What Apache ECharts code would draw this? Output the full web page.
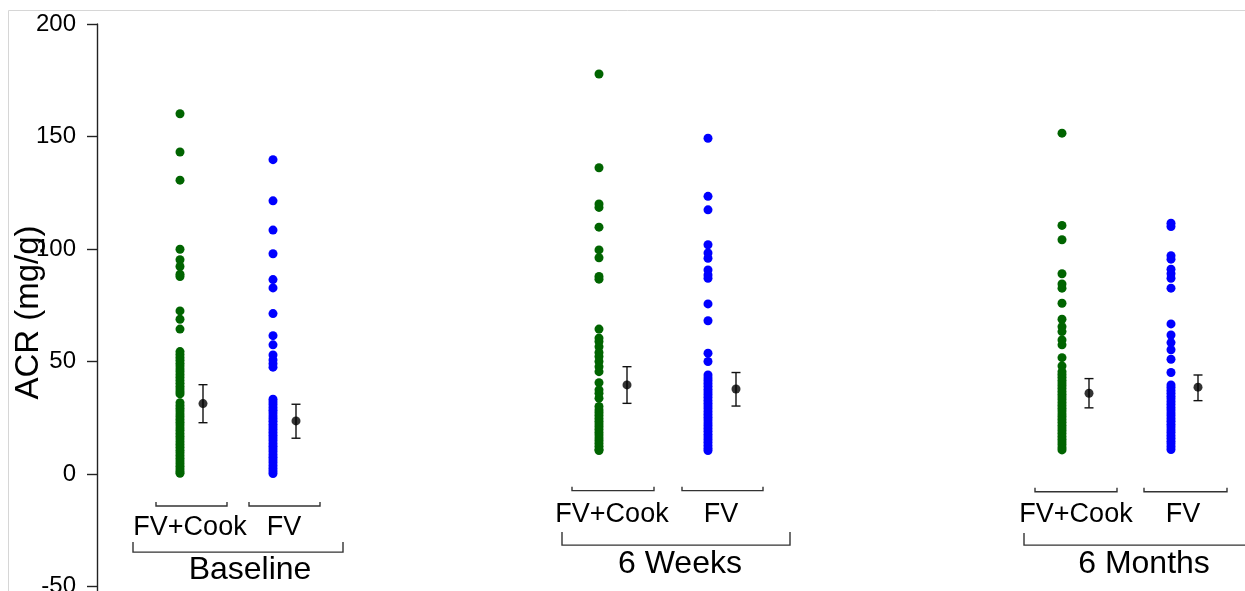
<!DOCTYPE html>
<html>
<head>
<meta charset="utf-8">
<script src="https://cdn.jsdelivr.net/npm/echarts@6/dist/echarts.min.js"></script>
<style>
html,body{margin:0;padding:0;background:#fff;}
#chart{width:1245px;height:591px;}
</style>
</head>
<body>
<div id="chart"></div>
<script>
// ---------- DATA ----------
const timepoints = ['Baseline', '6 Weeks', '6 Months'];
const arms = ['FV+Cook', 'FV'];
const yTickLabels = [-50, 0, 50, 100, 150, 200];

const baselineFVCook = [160.1, 143.1, 130.6, 99.9, 95.2, 92.2, 88.8, 87.8, 72.5, 68.8, 64.4,
  54.4, 53.1, 51.8, 50.6, 49.2, 48.0, 46.7, 45.5, 44.1, 42.9, 41.6, 40.3, 39.0, 37.8, 36.6, 35.6,
  31.7, 30.4, 29.2, 28.0, 26.7, 25.5, 24.2, 23.0, 21.8, 20.5, 19.3, 18.0, 16.8, 15.6, 14.3, 13.1,
  11.9, 10.6, 9.4, 8.2, 7.0, 5.8, 4.6, 3.4, 2.2, 1.1, 0.3];
const baselineFV = [139.7, 121.4, 108.4, 97.9, 86.4, 82.7, 71.3, 61.5, 57.4, 52.9, 50.7, 49.0, 47.5,
  33.2, 32.0, 30.8, 29.5, 28.3, 27.1, 25.8, 24.6, 23.4, 22.1, 20.9, 19.7, 18.5, 17.2, 16.0, 14.8,
  13.5, 12.3, 11.1, 9.9, 8.6, 7.4, 6.2, 5.0, 3.7, 2.5, 1.3, 0.2];
const weeks6FVCook = [177.8, 136.1, 120.0, 118.5, 109.7, 99.6, 96.1, 87.8, 86.6, 64.4, 60.4, 58.9,
  56.6, 54.0, 52.2, 50.0, 47.7, 45.5, 40.6, 37.4, 35.9, 33.7, 30.0, 28.5, 27.2, 26.0, 24.7, 23.5,
  22.2, 21.0, 19.8, 18.5, 17.3, 16.0, 14.8, 13.6, 12.3, 11.0, 10.4];
const weeks6FV = [149.2, 123.4, 117.4, 101.9, 98.2, 95.9, 90.7, 88.5, 87.0, 75.6, 68.1, 53.7, 50.0,
  44.0, 42.7, 41.5, 40.2, 39.0, 37.7, 36.5, 35.2, 34.0, 32.7, 31.5, 30.2, 29.0, 27.7, 26.5, 25.2,
  24.0, 22.7, 21.5, 20.2, 19.0, 17.7, 16.5, 15.2, 14.0, 12.7, 11.5, 10.4];
const months6FVCook = [151.5, 110.5, 104.1, 89.0, 84.5, 82.6, 75.9, 68.8, 65.5, 63.3, 59.6, 57.4,
  51.7, 48.0, 45.5, 44.2, 43.0, 41.7, 40.5, 39.2, 38.0, 36.7, 35.5, 34.2, 33.0, 31.7, 30.5, 29.2,
  28.0, 26.7, 25.5, 24.2, 23.0, 21.7, 20.5, 19.2, 18.0, 16.7, 15.5, 14.2, 13.0, 11.7, 10.7];
const months6FV = [111.5, 110.0, 97.0, 95.5, 91.0, 89.0, 87.0, 82.6, 66.7, 61.8, 58.4, 55.2, 51.0,
  45.1, 39.6, 38.4, 37.1, 35.9, 34.6, 33.4, 32.1, 30.9, 29.6, 28.4, 27.1, 25.9, 24.6, 23.4, 22.1,
  20.9, 19.6, 18.4, 17.1, 15.9, 14.6, 13.4, 12.1, 10.9];

// group means and error-bar limits, order: Baseline FV+Cook, Baseline FV, 6W FV+Cook, 6W FV, 6M FV+Cook, 6M FV
const meanValues = [31.3, 23.6, 39.6, 37.8, 35.9, 38.6];
const errLow = [22.8, 15.9, 31.4, 30.2, 29.4, 32.6];
const errHigh = [39.7, 31.0, 47.7, 45.1, 42.4, 44.0];

// ---------- LAYOUT (not data) ----------
const columns = [baselineFVCook, baselineFV, weeks6FVCook, weeks6FV, months6FVCook, months6FV];
const colX = [83, 176, 502, 611, 965, 1074];
const meanOffset = [23, 23, 28, 28, 27, 27];
const colColor = ['#006400', '#0000ff', '#006400', '#0000ff', '#006400', '#0000ff'];

const groupLayout = [
  { small: [[59, 130], [152, 223]], smallY: -14.2, armLabelX: [93, 187], armLabelY: -23.6,
    big: [36, 246], bigY: -34.7, bigTick: 10, groupLabelX: 153, groupLabelY: -42.7 },
  { small: [[475, 557], [585, 666]], smallY: -7.4, armLabelX: [515, 624], armLabelY: -18.2,
    big: [465, 693], bigY: -31.6, bigTick: 13, groupLabelX: 583, groupLabelY: -40.0 },
  { small: [[938, 1020], [1047, 1130]], smallY: -7.9, armLabelX: [979, 1086], armLabelY: -18.2,
    big: [927, 1155], bigY: -31.6, bigTick: 12, groupLabelX: 1047, groupLabelY: -40.0 }
];

const FONT = '"Liberation Sans", Arial, sans-serif';

const series = [];
columns.forEach((vals, i) => {
  series.push({
    type: 'scatter',
    symbol: 'circle',
    symbolSize: 9,
    itemStyle: { color: colColor[i], opacity: 1 },
    data: vals.map(v => [colX[i], v]),
    z: 3,
    silent: true
  });
});

// error bars
series.push({
  type: 'custom',
  silent: true,
  z: 4,
  data: meanValues.map((m, i) => [colX[i] + meanOffset[i], errLow[i], errHigh[i]]),
  renderItem: function (params, api) {
    const x = api.value(0);
    const top = api.coord([x, api.value(2)]);
    const bot = api.coord([x, api.value(1)]);
    const cap = 4.5;
    const st = { stroke: '#111', lineWidth: 1.4 };
    return {
      type: 'group',
      children: [
        { type: 'line', shape: { x1: top[0], y1: top[1], x2: bot[0], y2: bot[1] }, style: st },
        { type: 'line', shape: { x1: top[0] - cap, y1: top[1], x2: top[0] + cap, y2: top[1] }, style: st },
        { type: 'line', shape: { x1: bot[0] - cap, y1: bot[1], x2: bot[0] + cap, y2: bot[1] }, style: st }
      ]
    };
  }
});

// means
series.push({
  type: 'scatter',
  symbol: 'circle',
  symbolSize: 9,
  itemStyle: { color: '#000' },
  z: 5,
  silent: true,
  data: meanValues.map((m, i) => [colX[i] + meanOffset[i], m])
});

// brackets + category labels
const bracketItems = [];
groupLayout.forEach((g, gi) => {
  g.small.forEach((s, ai) => {
    bracketItems.push([s[0], s[1], g.smallY, 4, g.armLabelX[ai], g.armLabelY, 0, gi, ai]);
  });
  bracketItems.push([g.big[0], g.big[1], g.bigY, g.bigTick, g.groupLabelX, g.groupLabelY, 1, gi, 0]);
});
series.push({
  type: 'custom',
  silent: true,
  clip: false,
  z: 2,
  data: bracketItems,
  renderItem: function (params, api) {
    const p1 = api.coord([api.value(0), api.value(2)]);
    const p2 = api.coord([api.value(1), api.value(2)]);
    const t = api.value(3);
    const lp = api.coord([api.value(4), api.value(5)]);
    const big = api.value(6) === 1;
    const text = big ? timepoints[api.value(7)] : arms[api.value(8)];
    return {
      type: 'group',
      children: [
        { type: 'polyline',
          shape: { points: [[p1[0], p1[1] - t], [p1[0], p1[1]], [p2[0], p2[1]], [p2[0], p2[1] - t]] },
          style: { stroke: '#333', lineWidth: 1.4, fill: null } },
        { type: 'text',
          x: lp[0], y: lp[1],
          style: { text: text, fill: '#000', font: (big ? '32px ' : '27px ') + FONT,
                   align: 'center', verticalAlign: 'middle' } }
      ]
    };
  }
});

const chart = echarts.init(document.getElementById('chart'), null, { renderer: 'canvas' });
chart.setOption({
  animation: false,
  backgroundColor: '#fff',
  textStyle: { fontFamily: FONT },
  graphic: [{
    type: 'rect', z: -10, silent: true,
    shape: { x: 8.5, y: 10.5, width: 1400, height: 800 },
    style: { fill: null, stroke: '#d6d6d6', lineWidth: 1 }
  }],
  grid: { left: 97, top: 24, width: 1148, height: 675, containLabel: false, outerBoundsMode: 'none' },
  xAxis: { type: 'value', min: 0, max: 1148, show: false },
  yAxis: {
    type: 'value', min: -100, max: 200, interval: 50,
    name: 'ACR (mg/g)', nameLocation: 'middle', nameGap: 52, nameMoveOverlap: false,
    nameTextStyle: { fontSize: 33, color: '#000', fontFamily: FONT, padding: [0, 0, 0, 98] },
    axisLine: { show: true, lineStyle: { color: '#222', width: 1.4 } },
    axisTick: { show: true, length: 10, lineStyle: { color: '#222', width: 1.4 } },
    splitLine: { show: false },
    axisLabel: {
      fontSize: 24, color: '#000', margin: 21, fontFamily: FONT,
      formatter: v => (yTickLabels.indexOf(v) >= 0 ? String(v) : '')
    }
  },
  series: series
});
</script>
</body>
</html>
